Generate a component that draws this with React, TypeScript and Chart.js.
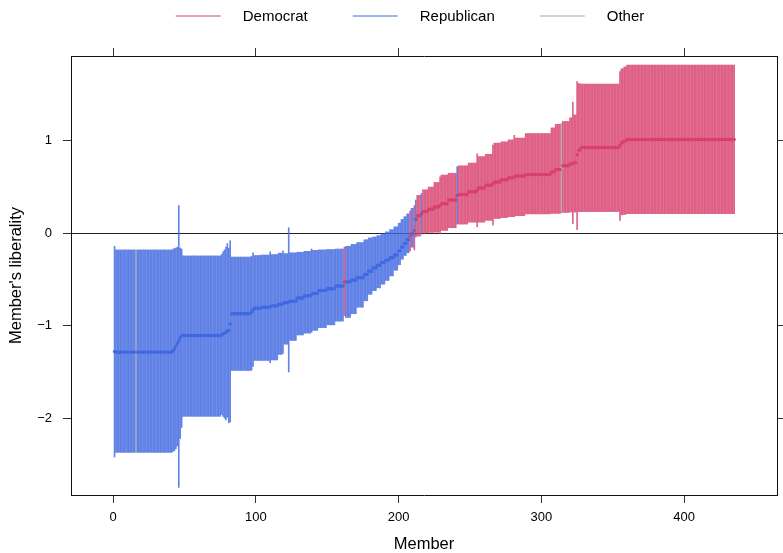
import { useEffect, useRef } from 'react';
import { Chart, registerables } from 'chart.js';

Chart.register(...registerables);

const fontFamily = "'Liberation Sans', Arial, Helvetica, sans-serif";

const partyNames = ['Democrat', 'Republican', 'Other'];
const partyCodes = ['D', 'R', 'O'];
const partyColors = ['#D8416E', '#4169E1', '#A8A8A8'];
const partyBarColors = ['rgba(216,65,110,0.82)', 'rgba(65,105,225,0.82)', 'rgba(168,168,168,0.9)'];

// Members are numbered 1..435 in order of estimated liberality.
// Consecutive members that read the same off the picture are grouped.
const groupSizes = [
  1, 40, 1, 1, 1, 1, 1, 1, 1, 27,
  1, 1, 1, 1, 1, 1, 1, 14, 1, 1,
  5, 6, 1, 5, 3, 1, 3, 1, 5, 5,
  5, 1, 4, 6, 6, 6, 1, 4, 4, 5,
  3, 3, 3, 3, 3, 3, 3, 3, 2, 2,
  2, 2, 1, 2, 1, 1, 3, 1, 4, 4,
  4, 1, 5, 6, 1, 7, 6, 1, 5, 5,
  1, 5, 5, 4, 1, 7, 18, 3, 4, 1,
  5, 2, 1, 2, 1, 2, 27, 1, 2, 2,
  76,
];
const estimateByGroup = [
  -1.28, -1.285, -1.27, -1.25, -1.22, -1.19, -1.16, -1.13, -1.11, -1.105,
  -1.1, -1.09, -1.08, -1.07, -1.06, -1.05, -0.98, -0.87, -0.85, -0.83,
  -0.81, -0.8, -0.795, -0.785, -0.77, -0.76, -0.75, -0.745, -0.735, -0.7,
  -0.675, -0.665, -0.65, -0.62, -0.6, -0.57, -0.53, -0.525, -0.505, -0.48,
  -0.445, -0.41, -0.375, -0.345, -0.315, -0.29, -0.265, -0.235, -0.19, -0.15,
  -0.11, -0.07, -0.03, -0.005, 0.03, 0.15, 0.19, 0.21, 0.235, 0.26,
  0.285, 0.3, 0.32, 0.36, 0.41, 0.42, 0.45, 0.465, 0.49, 0.52,
  0.535, 0.555, 0.58, 0.6, 0.61, 0.62, 0.635, 0.665, 0.69, 0.705,
  0.73, 0.75, 0.755, 0.765, 0.85, 0.9, 0.928, 0.95, 0.98, 1.0,
  1.015,
];
const lowerByGroup = [
  -2.42, -2.37, -2.36, -2.35, -2.33, -2.3, -2.75, -2.22, -2.1, -1.98,
  -1.96, -1.98, -2.0, -2.02, -1.99, -2.05, -2.04, -1.484, -1.48, -1.44,
  -1.376, -1.376, -1.4, -1.37, -1.31, -1.3, -1.2, -1.5, -1.16, -1.1,
  -1.08, -1.07, -1.05, -1.02, -0.99, -0.95, -0.89, -0.91, -0.87, -0.8,
  -0.73, -0.66, -0.62, -0.59, -0.55, -0.51, -0.46, -0.4, -0.34, -0.28,
  -0.24, -0.21, -0.19, -0.15, -0.18, -0.04, -0.03, -0.01, 0.005, 0.01,
  0.012, -0.005, 0.03, 0.06, 0.1, 0.1, 0.12, 0.07, 0.12, 0.14,
  0.087, 0.16, 0.17, 0.18, 0.18, 0.19, 0.21, 0.215, 0.215, 0.22,
  0.225, 0.23, 0.105, 0.23, 0.04, 0.235, 0.235, 0.14, 0.2, 0.205,
  0.213,
];
const upperByGroup = [
  -0.14, -0.18, -0.17, -0.165, -0.16, -0.15, 0.3, -0.16, -0.17, -0.245,
  -0.23, -0.2, -0.18, -0.15, -0.11, -0.16, -0.08, -0.257, -0.25, -0.21,
  -0.24, -0.235, -0.2, -0.23, -0.215, -0.19, -0.22, 0.06, -0.21, -0.205,
  -0.195, -0.17, -0.185, -0.18, -0.175, -0.17, -0.15, -0.14, -0.12, -0.1,
  -0.07, -0.05, -0.04, -0.025, 0.0, 0.015, 0.04, 0.07, 0.11, 0.15,
  0.18, 0.21, 0.24, 0.27, 0.3, 0.36, 0.41, 0.43, 0.47, 0.5,
  0.55, 0.61, 0.63, 0.65, 0.72, 0.73, 0.76, 0.86, 0.83, 0.855,
  0.955, 0.975, 0.99, 1.01, 1.06, 1.03, 1.08, 1.14, 1.18, 1.19,
  1.21, 1.25, 1.42, 1.28, 1.64, 1.62, 1.614, 1.75, 1.78, 1.8,
  1.82,
];

// Party of each member, as consecutive runs (D = Democrat, R = Republican, O = Other)
const partyRunCodes = ['R', 'O', 'R', 'D', 'R', 'D', 'R', 'D', 'R', 'D', 'R', 'D', 'R', 'D', 'O', 'D'];
const partyRunLengths = [15, 1, 145, 1, 45, 1, 2, 1, 1, 3, 1, 24, 1, 72, 1, 121];

const xTicks = [0, 100, 200, 300, 400];
const xTickLabels = ['0', '100', '200', '300', '400'];
const yTicks = [-2, -1, 0, 1];
const yTickLabels = ['\u22122', '\u22121', '0', '1'];

const xMin = -29.5;
const xMax = 465;
const yMin = -2.831;
const yMax = 1.918;

function expand<T>(values: T[], sizes: number[]): T[] {
  const out: T[] = [];
  values.forEach((v, i) => {
    for (let k = 0; k < sizes[i]; k++) out.push(v);
  });
  return out;
}

const legendPlugin = {
  id: 'topKey',
  afterDraw(chart: any) {
    const ctx = chart.ctx as CanvasRenderingContext2D;
    ctx.save();
    ctx.font = `15px ${fontFamily}`;
    const lineLen = 45;
    const gap = 22;
    const itemGap = 45;
    const widths = partyNames.map((n) => ctx.measureText(n).width);
    const total = widths.reduce((a, w) => a + lineLen + gap + w, 0) + itemGap * (partyNames.length - 1);
    let x = 410 - total / 2;
    const y = 16;
    partyNames.forEach((name, i) => {
      ctx.strokeStyle = partyColors[i];
      ctx.lineWidth = 1;
      ctx.beginPath();
      ctx.moveTo(x, y);
      ctx.lineTo(x + lineLen, y);
      ctx.stroke();
      ctx.fillStyle = '#000';
      ctx.textAlign = 'left';
      ctx.textBaseline = 'middle';
      ctx.fillText(name, x + lineLen + gap, y + 0.5);
      x += lineLen + gap + widths[i] + itemGap;
    });
    ctx.restore();
  },
};

export default function App() {
  const ref = useRef<HTMLCanvasElement | null>(null);

  useEffect(() => {
    document.body.style.margin = '0';
    const estimate = expand(estimateByGroup, groupSizes);
    const lower = expand(lowerByGroup, groupSizes);
    const upper = expand(upperByGroup, groupSizes);
    const party = expand(partyRunCodes, partyRunLengths);
    const members = estimate.map((_, i) => i + 1);

    const barSets = partyCodes.map((code, p) => ({
      type: 'bar' as const,
      label: partyNames[p],
      data: members
        .filter((_, i) => party[i] === code)
        .map((m) => ({ x: m, y: [lower[m - 1], upper[m - 1]] })),
      backgroundColor: partyBarColors[p],
      borderWidth: 0,
      barThickness: 1,
      grouped: false,
      xAxisID: 'x',
      yAxisID: 'y',
      order: 2,
    }));
    const pointSets = partyCodes.map((code, p) => ({
      type: 'scatter' as const,
      label: partyNames[p] + ' estimate',
      data: members
        .filter((_, i) => party[i] === code)
        .map((m) => ({ x: m, y: estimate[m - 1] })),
      backgroundColor: partyColors[p],
      borderWidth: 0,
      pointRadius: 1.7,
      showLine: false,
      xAxisID: 'x',
      yAxisID: 'y',
      order: 1,
    }));

    const tickFont = { family: fontFamily, size: 13 };
    const titleFont = { family: fontFamily, size: 16.5, lineHeight: 1 };
    const setX = (s: any) => {
      s.ticks = xTicks.map((v) => ({ value: v }));
    };
    const setY = (s: any) => {
      s.ticks = yTicks.map((v) => ({ value: v }));
    };

    const chart = new Chart(ref.current as HTMLCanvasElement, {
      type: 'bar',
      data: { datasets: [...pointSets, ...barSets] as any },
      options: {
        responsive: false,
        animation: false,
        events: [],
        layout: { padding: 0 },
        plugins: { legend: { display: false }, tooltip: { enabled: false }, title: { display: false } },
        scales: {
          x: {
            type: 'linear',
            position: 'bottom',
            min: xMin,
            max: xMax,
            offset: false,
            afterBuildTicks: setX,
            afterFit: (s: any) => {
              s.height = 58;
            },
            grid: { offset: false, drawOnChartArea: false, drawTicks: true, tickLength: 8, tickColor: '#333', color: '#333' },
            border: { display: true, color: '#111', width: 1 },
            ticks: {
              color: '#000',
              font: tickFont,
              padding: 7,
              maxRotation: 0,
              autoSkip: false,
              callback: (v: any) => xTickLabels[xTicks.indexOf(Number(v))],
            },
            title: { display: true, text: 'Member', color: '#000', font: titleFont, padding: { top: 0, bottom: 0 } },
          },
          x2: {
            type: 'linear',
            position: 'top',
            min: xMin,
            max: xMax,
            offset: false,
            afterBuildTicks: setX,
            afterFit: (s: any) => {
              s.height = 56;
            },
            grid: { offset: false, drawOnChartArea: false, drawTicks: true, tickLength: 8, tickColor: '#333', color: '#333' },
            border: { display: true, color: '#111', width: 1 },
            ticks: { display: false },
          },
          y: {
            type: 'linear',
            position: 'left',
            min: yMin,
            max: yMax,
            z: 1,
            afterBuildTicks: setY,
            afterFit: (s: any) => {
              s.width = 71;
            },
            grid: {
              drawOnChartArea: true,
              drawTicks: true,
              tickLength: 8,
              tickColor: '#333',
              color: (c: any) => (c.tick && c.tick.value === 0 ? '#222' : 'rgba(0,0,0,0)'),
            },
            border: { display: true, color: '#111', width: 1 },
            ticks: {
              color: '#000',
              font: tickFont,
              padding: 11,
              callback: (v: any) => yTickLabels[yTicks.indexOf(Number(v))],
            },
            title: {
              display: true,
              text: "Member's liberality",
              color: '#000',
              font: titleFont,
              padding: { top: 8, bottom: 0 },
            },
          },
          y2: {
            type: 'linear',
            position: 'right',
            min: yMin,
            max: yMax,
            afterBuildTicks: setY,
            afterFit: (s: any) => {
              s.width = 6;
            },
            grid: { drawOnChartArea: false, drawTicks: true, tickLength: 8, tickColor: '#333', color: '#333' },
            border: { display: true, color: '#111', width: 1 },
            ticks: { display: false },
          },
        },
      } as any,
      plugins: [legendPlugin],
    });
    return () => chart.destroy();
  }, []);

  return (
    <div style={{ width: 783, height: 553 }}>
      <canvas ref={ref} width={783} height={553} style={{ display: 'block' }} />
    </div>
  );
}
